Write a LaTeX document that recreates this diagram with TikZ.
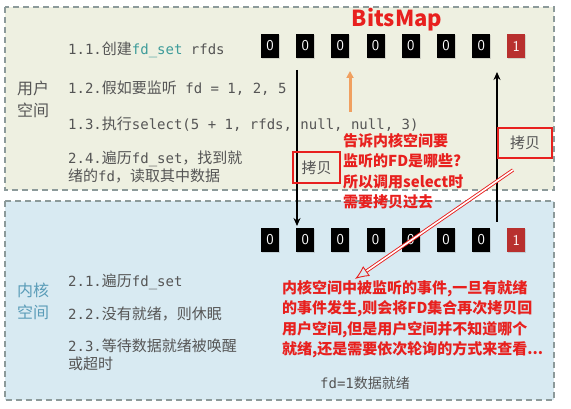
\documentclass[tikz,border=0pt]{standalone}
\usepackage{fontspec}
\setmonofont{DejaVu Sans Mono}
\newfontfamily\cjk{Noto Sans CJK SC}
\usepackage{tikz}
\usetikzlibrary{
  positioning,
  arrows.meta,
  calc,
  shadows
}
\usepackage{xcolor}
\definecolor{userbg}{HTML}{EEF0E1}
\definecolor{kernbg}{HTML}{D8EAF2}
\definecolor{frame}{HTML}{8C9A9A}
\definecolor{redmark}{HTML}{E8201E}
\definecolor{bitred}{HTML}{B8302E}
\definecolor{ink}{HTML}{555555}
\definecolor{fdteal}{HTML}{3E9C9A}
\definecolor{kerntxt}{HTML}{5A9CB8}
\definecolor{hint}{HTML}{F0A060}
\newcommand\zh[1]{{\cjk\fontsize{15}{18}\selectfont #1}}

\begin{document}
\begin{tikzpicture}[
  x=1pt, y=-1pt,
  panel/.style={draw=frame, line width=1.3pt, dash pattern=on 6pt off 4pt},
  bit/.style={fill=black, text=white, minimum width=18pt, minimum height=24pt,
              inner sep=0pt, font=\sffamily\fontsize{15}{15}\selectfont,
              drop shadow={opacity=0.25, shadow xshift=1pt, shadow yshift=-1.5pt}},
  code/.style={anchor=west, inner sep=0pt, text=ink, align=left,
               font=\ttfamily\fontsize{14}{18}\selectfont},
  side/.style={inner sep=0pt, align=left, font=\cjk\fontsize{16}{22}\selectfont},
  note/.style={anchor=north west, inner sep=0pt, align=left, text=redmark,
               font=\cjk\bfseries\fontsize{15}{20.5}\selectfont},
  copybox/.style={draw=redmark, line width=1.5pt, text=ink, inner sep=0pt,
                  font=\cjk\fontsize{15}{15}\selectfont},
  arr/.style={-{Stealth[length=8pt, width=7pt]}, line width=2.3pt}
]
  \useasboundingbox (0,0) rectangle (571,409);

  % user space / kernel space
  \draw[panel, fill=userbg] (5,7) rectangle (554,190);
  \draw[panel, fill=kernbg] (5,201) rectangle (554,400);

  \node[side, text=ink] (user) at (33,99) {用户\\空间};
  \node[side, text=kerntxt] (kern) at (33,301) {内核\\空间};

  % steps in user space
  \node[code] (s11) at (68,50) {1.1.\zh{创建}\textcolor{fdteal}{fd\_set} rfds};
  \node[code] (s12) at (68,88) {1.2.\zh{假如要监听} fd = 1, 2, 5};
  \node[code] (s13) at (68,124) {1.3.\zh{执行}select(5 + 1, rfds, null, null, 3)};
  \node[code] (s24) at (68,167) {2.4.\zh{遍历}fd\_set\zh{，找到就}\\\zh{绪的}fd\zh{，读取其中数据}};

  % steps in kernel space
  \node[code] (s21) at (68,282) {2.1.\zh{遍历}fd\_set};
  \node[code] (s22) at (68,314) {2.2.\zh{没有就绪，则休眠}};
  \node[code] (s23) at (68,355) {2.3.\zh{等待数据就绪被唤醒}\\\zh{或超时}};

  % the bits
  \node[text=redmark, font=\cjk\bfseries\fontsize{22}{22}\selectfont] (title) at (397,20) {BitsMap};
  \foreach \i in {0,...,6} {
    \node[bit] (bitU\i) at (270+35.2*\i,46) {0};
    \node[bit] (bitK\i) at (270+35.2*\i,240) {0};
  }
  \node[bit, fill=bitred] (bitU7) at (516.4,46) {1};
  \node[bit, fill=bitred] (bitK7) at (516.4,240) {1};

  % copies between the two spaces
  \coordinate (downTop) at (297,70);
  \coordinate (downEnd) at (297,226);
  \coordinate (upTop) at (497,72);
  \coordinate (upEnd) at (497,222);
  \draw[arr] (downTop) -- (downEnd);
  \draw[arr] (upEnd) -- (upTop);
  \node[copybox, minimum width=47pt, minimum height=31pt] (copyL) at (316.5,167.5) {拷贝};
  \node[copybox, minimum width=54pt, minimum height=30pt] (copyR) at (525,143) {拷贝};

  \coordinate (hintLow) at (350,112);
  \coordinate (hintTop) at (350,71);
  \draw[-{Triangle[length=7pt, width=7pt]}, hint, line width=3pt] (hintLow) -- (hintTop);

  % remarks
  \node[note] (noteTop) at (343,133) {告诉内核空间要\\监听的FD是哪些?\\所以调用select时\\需要拷贝过去};
  \node[note] (noteBot) at (282,280) {内核空间中被监听的事件,一旦有就绪\\的事件发生,则会将FD集合再次拷贝回\\用户空间,但是用户空间并不知道哪个\\就绪,还是需要依次轮询的方式来查看...};

  \coordinate (tail) at (513,170);
  \coordinate (tip) at (355,279);
  \draw[redmark, double=white, double distance=1.6pt, line width=0.9pt,
        -{Latex[open, length=14pt, width=12pt]}] (tail) -- (tip);

  \node[text=ink, font=\cjk\fontsize{14}{14}\selectfont] (ready) at (365,383) {\texttt{fd=1}数据就绪};
\end{tikzpicture}
\end{document}
